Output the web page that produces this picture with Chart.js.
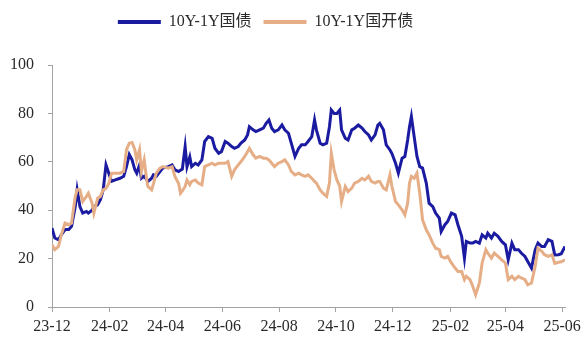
<!DOCTYPE html>
<html lang="zh-CN">
<head>
<meta charset="UTF-8">
<title>10Y-1Y 期限利差</title>
<script src="https://cdn.jsdelivr.net/npm/chart.js"></script>
<style>
  html, body { margin: 0; padding: 0; background: #fff; }
  .wrap { width: 588px; height: 342px; }
</style>
</head>
<body>
<div class="wrap"><canvas id="spread-chart" width="588" height="342"></canvas></div>
<script>
// 观察日期与两条利差序列（bp）
const dates = [
  '2023-12-01','2023-12-04','2023-12-08','2023-12-11','2023-12-15','2023-12-19','2023-12-22','2023-12-26','2023-12-28','2023-12-31',
  '2024-01-03','2024-01-07','2024-01-09','2024-01-13','2024-01-15','2024-01-19','2024-01-22','2024-01-25','2024-01-28','2024-01-31',
  '2024-02-03','2024-02-07','2024-02-12','2024-02-16','2024-02-19','2024-02-22','2024-02-25','2024-02-28',
  '2024-03-01','2024-03-04','2024-03-06','2024-03-09','2024-03-12','2024-03-13','2024-03-17','2024-03-19','2024-03-22','2024-03-26','2024-03-29',
  '2024-04-04','2024-04-08','2024-04-11','2024-04-15','2024-04-17','2024-04-19','2024-04-22','2024-04-24','2024-04-27','2024-04-29',
  '2024-05-03','2024-05-06','2024-05-10','2024-05-13','2024-05-17','2024-05-21','2024-05-24','2024-05-28','2024-05-31',
  '2024-06-04','2024-06-07','2024-06-11','2024-06-14','2024-06-18','2024-06-21','2024-06-25','2024-06-28','2024-06-30',
  '2024-07-04','2024-07-07','2024-07-11','2024-07-15','2024-07-18','2024-07-21','2024-07-24','2024-07-27','2024-07-31',
  '2024-08-04','2024-08-07','2024-08-11','2024-08-14','2024-08-18','2024-08-22','2024-08-25','2024-08-29',
  '2024-09-01','2024-09-05','2024-09-08','2024-09-10','2024-09-14','2024-09-17','2024-09-21','2024-09-24','2024-09-26','2024-09-29',
  '2024-10-02','2024-10-05','2024-10-07','2024-10-11','2024-10-14','2024-10-18','2024-10-21','2024-10-25','2024-10-29',
  '2024-11-01','2024-11-05','2024-11-08','2024-11-12','2024-11-15','2024-11-17','2024-11-21','2024-11-24','2024-11-28','2024-11-30',
  '2024-12-04','2024-12-07','2024-12-11','2024-12-14','2024-12-17','2024-12-19','2024-12-21','2024-12-24','2024-12-27','2024-12-30',
  '2025-01-02','2025-01-06','2025-01-09','2025-01-13','2025-01-16','2025-01-20','2025-01-22','2025-01-26','2025-01-29',
  '2025-02-02','2025-02-06','2025-02-09','2025-02-13','2025-02-16','2025-02-18','2025-02-22','2025-02-25','2025-02-28',
  '2025-03-04','2025-03-07','2025-03-11','2025-03-13','2025-03-17','2025-03-20','2025-03-24','2025-03-28',
  '2025-04-01','2025-04-04','2025-04-08','2025-04-11','2025-04-15','2025-04-18','2025-04-22','2025-04-25','2025-04-29',
  '2025-05-03','2025-05-06','2025-05-10','2025-05-13','2025-05-17','2025-05-21','2025-05-24','2025-05-28','2025-05-31','2025-06-04'
];

const govSpread = [
  32.6,28.5,27.8,29.8,32,32,33.3,41.5,48.4,41.5,
  38.8,39.5,38.8,40,41.5,42.2,44.3,48.4,58.7,55.3,
  51.9,52.5,53.2,54,58,63,60.8,56.7,
  55.3,58.7,53.2,54,52.5,51.9,53.2,54.6,54,56,57.4,
  58,58.7,56.7,56,56.5,57,66.3,58,62,58,
  59.4,58.7,60.8,68.4,70.4,69.7,65.6,63.5,64.2,
  68.4,67.7,66.3,65.6,66.3,67.7,69,71.1,74.5,
  73.2,72.5,73.2,73.9,75.9,77.3,73.9,72.5,73.2,
  75.2,73.2,71.8,67.7,62.2,65.6,67,67,
  68.4,70.4,77.3,73.2,67.7,67,67.7,74.5,81.4,80,
  80,81.4,73.2,69.7,69,73.2,73.9,75.2,73.9,
  72.5,71.1,69,71.1,75.2,75.9,73.2,67,64.9,63.5,
  59.4,55.3,61.5,62.2,69,74.5,78.7,70.4,62.2,58,
  57.4,51.2,42.9,41.5,38.8,36.7,31.2,34,35.4,
  38.8,38.1,34,29.2,20.2,27.1,26.4,26.4,27.1,
  26.4,29.8,28.5,30.5,28.5,30.5,29.2,27.1,
  25.7,19.5,26.4,23.7,23.7,22.3,20.9,18.8,16.1,
  23.7,26.4,25,25,27.8,27.1,21.5,21.6,22,25
];

const cdbSpread = [
  25.7,23.7,25,29.8,34.7,34,34.7,45.7,48.4,48.4,
  43.6,45.7,47,43,38.8,45,45.7,48.4,49,51,
  55.3,55.3,55.3,56,65,67.7,68,65,
  60.8,65,56,60.8,51.9,49.8,48.4,51,55.3,57.4,58,
  57.4,58,54,51,47,48,49.8,52.5,50.5,51.9,
  52.5,51.2,50.5,58,58.7,59.4,58.7,59.4,59.4,
  59.4,60.1,54,56.7,58.7,60.1,62.2,64.2,65.6,
  62.9,61.5,62.2,61.5,61.5,60.8,59.4,58,59.4,
  60.1,60.8,58.7,56,54.6,55.3,54.6,54,
  54.6,53.2,51.9,51.2,48.4,47,45.7,51.2,63.5,56.7,
  52.5,50,43.6,49.8,47.7,49.1,51.2,51.9,53.2,
  52.5,54,51.9,51.2,51.9,51.9,49.1,48.4,54.6,50,
  43.6,42.2,40.2,38.1,42.9,51.2,54,53.2,55.3,47,
  36,31.9,29.8,26.4,24.3,23.7,20.9,20.2,20.9,
  18.2,16.1,14.7,14.7,11.3,12.7,11.3,8.5,5.1,
  9.9,18.2,23.7,22.3,20.2,22.3,20.9,19.5,
  18.2,11.3,12.7,11.3,12.7,12,11.3,9.2,9.9,
  16.8,24.3,23,21.6,20.9,21.6,18,18.5,18.7,19.5
];

// 横轴刻度：每两个月一格
const tickDates = ['2023-12-01','2024-02-01','2024-04-01','2024-06-01','2024-08-01',
                   '2024-10-01','2024-12-01','2025-02-01','2025-04-01','2025-06-01'];
const tickLabels = ['23-12','24-02','24-04','24-06','24-08','24-10','24-12','25-02','25-04','25-06'];

const DAY = 86400000;
const start = Date.parse(tickDates[0]);
const toDay = d => Math.round((Date.parse(d) - start) / DAY);
const lastDay = toDay(dates[dates.length - 1]);

const serif = "'Liberation Serif', 'Times New Roman', 'Noto Sans CJK SC', serif";
const axisGray = '#a3a3a3';
const textColor = '#2a2a2a';

// 图例下方多留空白，并整体略向左移
const legendGap = {
  id: 'legendGap',
  beforeInit(chart) {
    const fit = chart.legend.fit;
    chart.legend.fit = function () {
      fit.call(this);
      this.height += 25;
    };
  },
  afterLayout(chart) {
    chart.legend.left -= 17;
    chart.legend.right -= 17;
  }
};

new Chart(document.getElementById('spread-chart').getContext('2d'), {
  type: 'line',
  data: {
    datasets: [{
      label: '10Y-1Y国债',
      data: dates.map((d, i) => ({ x: toDay(d), y: govSpread[i] })),
      borderColor: '#1b1ba2',
      backgroundColor: '#1b1ba2',
      borderWidth: 3,
      pointRadius: 0,
      tension: 0,
      order: 1
    }, {
      label: '10Y-1Y国开债',
      data: dates.map((d, i) => ({ x: toDay(d), y: cdbSpread[i] })),
      borderColor: '#e6ae86',
      backgroundColor: '#e6ae86',
      borderWidth: 3,
      pointRadius: 0,
      tension: 0,
      order: 0
    }]
  },
  plugins: [legendGap],
  options: {
    responsive: false,
    animation: false,
    layout: { padding: { top: 2, right: 23, bottom: 0, left: 0 } },
    plugins: {
      tooltip: { enabled: false },
      legend: {
        position: 'top',
        align: 'center',
        labels: {
          usePointStyle: true,
          pointStyle: 'line',
          pointStyleWidth: 43,
          padding: 12,
          color: textColor,
          font: { family: serif, size: 16 },
          sort: (a, b) => a.datasetIndex - b.datasetIndex,
          generateLabels(chart) {
            const items = Chart.defaults.plugins.legend.labels.generateLabels(chart);
            items.forEach(it => { it.lineWidth = 4; });
            return items;
          }
        }
      }
    },
    scales: {
      x: {
        type: 'linear',
        min: 0,
        max: lastDay,
        afterBuildTicks: scale => {
          scale.ticks = tickDates.map(d => ({ value: toDay(d) }));
        },
        afterFit: scale => { scale.height = 35; },
        ticks: {
          autoSkip: false,
          maxRotation: 0,
          padding: 5,
          color: textColor,
          font: { family: serif, size: 16 },
          callback: (value, index) => tickLabels[index]
        },
        grid: { drawOnChartArea: false, drawTicks: true, tickLength: 5, color: axisGray },
        border: { display: true, color: axisGray, width: 1 }
      },
      y: {
        min: 0,
        max: 100,
        afterFit: scale => { scale.width = 52; },
        ticks: {
          stepSize: 20,
          padding: 14,
          color: textColor,
          font: { family: serif, size: 16 }
        },
        grid: { drawOnChartArea: false, drawTicks: true, tickLength: 4, color: axisGray },
        border: { display: true, color: axisGray, width: 1 }
      }
    }
  }
});
</script>
</body>
</html>
